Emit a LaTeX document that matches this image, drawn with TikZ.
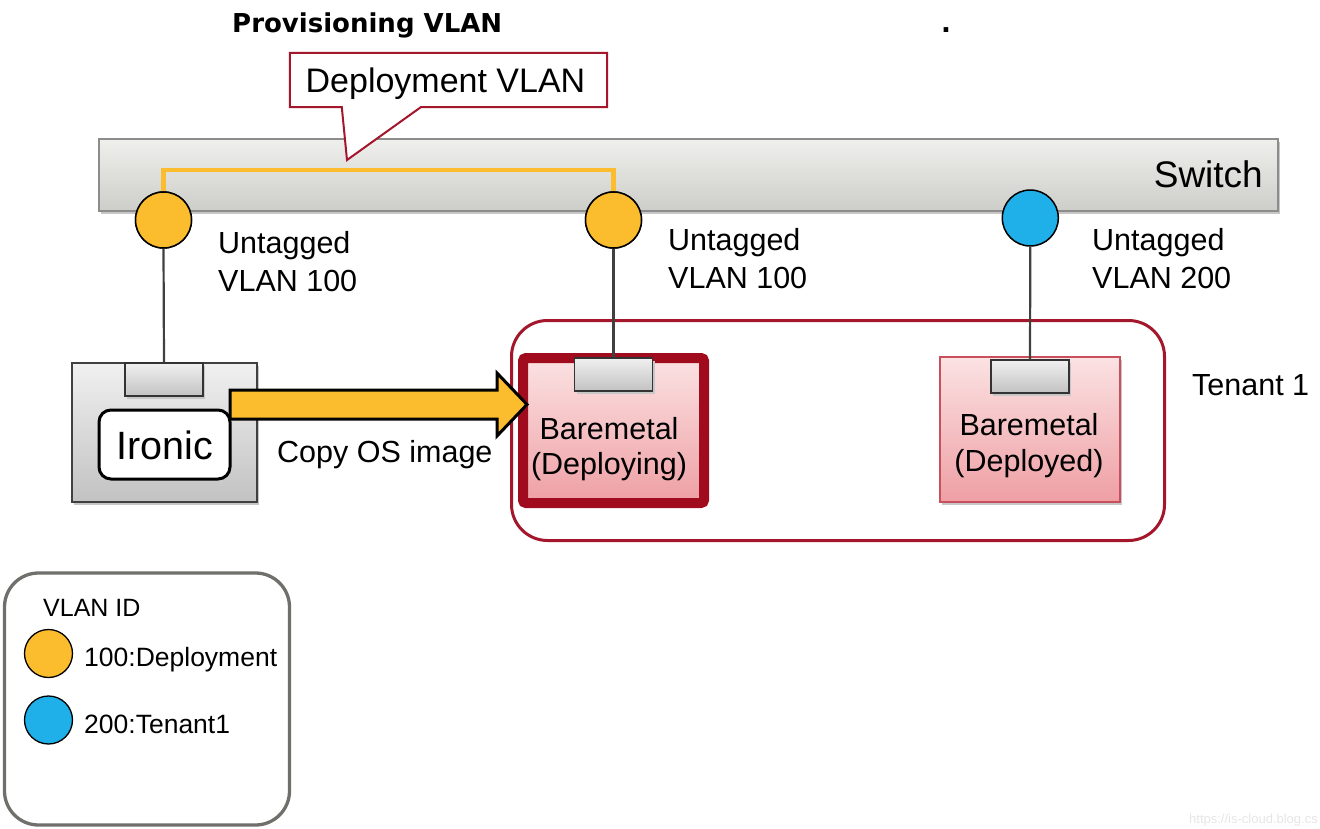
\documentclass[tikz,border=0pt]{standalone}
\usepackage{fontspec}
\setmainfont{Liberation Sans}
\newfontfamily\provfont{DejaVu Sans}
\usetikzlibrary{calc}
\definecolor{vorange}{HTML}{FBBC2E}
\definecolor{vblue}{HTML}{1FAFE9}
\definecolor{dred}{HTML}{A3162B}
\definecolor{thickred}{HTML}{A00C1E}
\definecolor{lred}{HTML}{C8505C}
\definecolor{pinkT}{HTML}{FBE2E3}
\definecolor{pinkB}{HTML}{EE9FA4}
\definecolor{swT}{HTML}{EFEFED}
\definecolor{swB}{HTML}{CDCDC9}
\definecolor{srvT}{HTML}{F0F0F0}
\definecolor{srvB}{HTML}{C2C2C2}
\definecolor{legdraw}{HTML}{6F6F6B}
\tikzset{
  txt/.style={inner sep=0pt, font=\fontsize{30.5}{36}\selectfont},
  shad/.style={preaction={fill=black!22, transform canvas={xshift=2pt,yshift=-3pt}}},
  port/.style={shad, draw=black!80, line width=1.2pt, top color=srvT, bottom color=srvB,
    minimum width=78, minimum height=33, inner sep=0pt},
  vlanc/.style={circle, draw=black, line width=1.5pt, minimum size=56, inner sep=0pt},
  wire/.style={draw=black!75, line width=2.2pt},
  vline/.style={draw=vorange, line width=4.5pt},
  bmtxt/.style={txt, anchor=base},
}
\begin{document}
\begin{tikzpicture}[x=1pt,y=-1pt]
\useasboundingbox (0,0) rectangle (1320,829);

% title
\node[inner sep=0pt, anchor=base west, font=\provfont\bfseries\fontsize{26}{30}\selectfont] (title) at (232,33) {Provisioning VLAN};
\node[inner sep=0pt, anchor=base, font=\provfont\bfseries\fontsize{26}{30}\selectfont] (dot) at (946,33) {.};

% switch
\node[shad, draw=black!45, line width=1.2pt, top color=swT, bottom color=swB,
  minimum width=1179, minimum height=72, inner sep=0pt] (sw) at (688.5,175) {};
\node[inner sep=0pt, anchor=base east, font=\fontsize{37}{40}\selectfont] (swt) at (1263,188) {Switch};

% VLAN circles
\node[vlanc, fill=vorange] (c1) at (163.5,220) {};
\node[vlanc, fill=vorange] (c2) at (613.5,220) {};
\node[vlanc, fill=vblue] (c3) at (1030.3,218) {};
\draw[vline] (c1.north) -- ++(0,-21) -| (c2.north);
\node[vlanc, fill=vorange] at (c1) {};
\node[vlanc, fill=vorange] at (c2) {};

% callout
\node[minimum width=317, minimum height=54, inner sep=0pt] (dv) at (448.5,80) {};
\coordinate (ctip) at (347,160);
\draw[draw=dred, line width=2pt, fill=white, line join=miter]
  (dv.north west) -- (dv.north east) -- (dv.south east)
  -- ($(dv.south west)+(131,0)$) -- (ctip) -- ($(dv.south west)+(52,0)$)
  -- (dv.south west) -- cycle;
\node[inner sep=0pt, anchor=base, font=\fontsize{34}{38}\selectfont] (dvt) at (445.5,93) {Deployment VLAN};

% labels
\node[txt, anchor=base west] (l1a) at (218,254) {Untagged};
\node[txt, anchor=base west] (l1b) at (218,291) {VLAN 100};
\node[txt, anchor=base west] (l2a) at (668,251) {Untagged};
\node[txt, anchor=base west] (l2b) at (668,288) {VLAN 100};
\node[txt, anchor=base west] (l3a) at (1092,251) {Untagged};
\node[txt, anchor=base west] (l3b) at (1092,288) {VLAN 200};

% tenant
\node[draw=dred, line width=3pt, rounded corners=36, minimum width=653, minimum height=220, inner sep=0pt] (ten) at (838,430.5) {};
\node[txt, anchor=base west] (tent) at (1192,395) {Tenant 1};

% ironic server
\node[shad, draw=black!75, line width=1.2pt, top color=srvT, bottom color=srvB,
  minimum width=185, minimum height=139, inner sep=0pt] (srv) at (164.5,432.5) {};
\node[port] (p1) at (164,379.5) {};
\node[draw=black, line width=3pt, fill=white, rounded corners=12, minimum width=131, minimum height=69, inner sep=0pt] (ir) at (164.5,444.5) {};
\node[inner sep=0pt, anchor=base, font=\fontsize{39.5}{44}\selectfont] (irt) at (164.5,459.3) {Ironic};

% baremetal deploying
\node[shad, draw=thickred, line width=10pt, rounded corners=3, top color=pinkT, bottom color=pinkB,
  minimum width=181, minimum height=145, inner sep=0pt] (bd) at (613.5,430.5) {};
\node[port] (p2) at (613.5,374.5) {};
\node[bmtxt] (bdt1) at (609,439) {Baremetal};
\node[bmtxt] (bdt2) at (609,474.5) {(Deploying)};

% baremetal deployed
\node[shad, draw=lred, line width=1.5pt, top color=pinkT, bottom color=pinkB,
  minimum width=180, minimum height=145, inner sep=0pt] (bp) at (1030,429.5) {};
\node[port] (p3) at (1030,376.5) {};
\node[bmtxt] (bpt1) at (1029,435.5) {Baremetal};
\node[bmtxt] (bpt2) at (1029,471) {(Deployed)};

% wires
\draw[wire] (c1.south) -- (p1.north);
\draw[wire] (c2.south) -- (p2.north);
\draw[wire] (c3.south) -- (p3.north);

% arrow
\coordinate (atip) at (527,404.5);
\draw[draw=black, line width=3pt, fill=vorange, line join=miter]
  (230,390) -- (497,390) -- (497,373) -- (atip) -- (497,436) -- (497,419) -- (230,419) -- cycle;
\node[txt, anchor=base west] (copy) at (277,462) {Copy OS image};

% legend
\node[draw=legdraw, line width=3.3pt, rounded corners=34, minimum width=285, minimum height=252, inner sep=0pt] (leg) at (147,699) {};
\node[inner sep=0pt, anchor=base west, font=\fontsize{25}{30}\selectfont] (legt) at (43,616) {VLAN ID};
\node[circle, draw=black, line width=1.3pt, fill=vorange, minimum size=48, inner sep=0pt] (lc1) at (48.5,653.5) {};
\node[circle, draw=black, line width=1.3pt, fill=vblue, minimum size=48, inner sep=0pt] (lc2) at (48.5,720) {};
\node[inner sep=0pt, anchor=base west, font=\fontsize{26.5}{30}\selectfont] (lt1) at (84,666.5) {100:Deployment};
\node[inner sep=0pt, anchor=base west, font=\fontsize{26.5}{30}\selectfont] (lt2) at (84,733) {200:Tenant1};

% watermark
\node[inner sep=0pt, anchor=base east, text=black!10, font=\fontsize{13}{16}\selectfont] (wm) at (1318,823) {https://is-cloud.blog.cs};
\end{tikzpicture}
\end{document}
